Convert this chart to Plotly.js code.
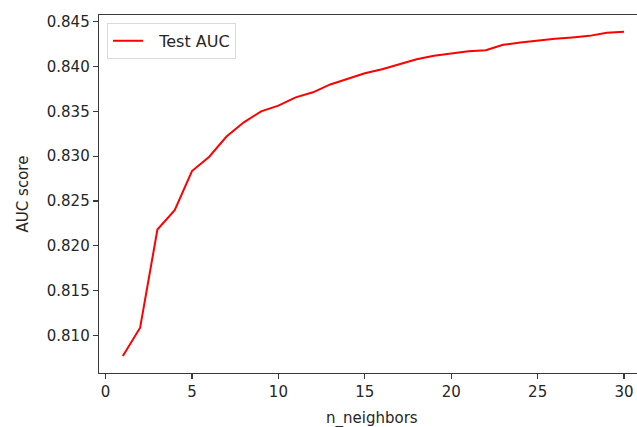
<!DOCTYPE html>
<html>
<head>
<meta charset="utf-8">
<script src="https://cdn.plot.ly/plotly-3.0.1.min.js"></script>
<style>
html,body{margin:0;padding:0;overflow:hidden;background:#fff;}
#chart{width:637px;height:427px;}
</style>
</head>
<body>
<div id="chart"></div>
<script>
const nNeighbors = [1,2,3,4,5,6,7,8,9,10,11,12,13,14,15,16,17,18,19,20,21,22,23,24,25,26,27,28,29,30];
const testAUC = [0.80769,0.81085,0.82180,0.82396,0.82833,0.82993,0.83218,0.83377,0.83500,0.83564,
                 0.83656,0.83712,0.83800,0.83862,0.83925,0.83970,0.84022,0.84082,0.84119,0.84148,
                 0.84171,0.84182,0.84242,0.84268,0.84290,0.84309,0.84324,0.84342,0.84376,0.84387];
const xTicks = [0,5,10,15,20,25,30];
const yTicks = [0.810,0.815,0.820,0.825,0.830,0.835,0.840,0.845];
const seriesName = 'Test AUC';
const xTitle = 'n_neighbors';
const yTitle = 'AUC score';

const font = {family:'DejaVu Sans, sans-serif', size:15, color:'#262626'};

Plotly.newPlot('chart', [{
  x: nNeighbors, y: testAUC, type:'scatter', mode:'lines', name: '\u2002\u2009' + seriesName,
  line:{color:'#ff0000', width:2}
}], {
  width:637, height:427,
  margin:{l:99, r:0, t:15, b:54},
  paper_bgcolor:'#fff', plot_bgcolor:'#fff',
  font: font,
  showlegend:true,
  legend:{x:0.0149, y:0.978, xanchor:'left', yanchor:'top',
          bgcolor:'rgba(255,255,255,0.8)', bordercolor:'#d9d9d9', borderwidth:1,
          font:{family:'DejaVu Sans, sans-serif', size:16, color:'#262626'}},
  annotations:[{text:xTitle, xref:'paper', yref:'paper', x:0.5074, y:0,
                xanchor:'center', yanchor:'top', yshift:-34, showarrow:false, font:font}],
  xaxis:{range:[-0.38,30.75], tickvals:xTicks, ticktext:xTicks.map(String),
         showgrid:false, zeroline:false, showline:true, mirror:true,
         linecolor:'#3a3a3a', linewidth:1.3, ticks:'outside', ticklen:5, tickwidth:1.2, tickcolor:'#3a3a3a',
         tickfont:font},
  yaxis:{range:[0.80579,0.84575], tickvals:yTicks, ticktext:yTicks.map(v=>v.toFixed(3)),
         showgrid:false, zeroline:false, showline:true, mirror:false,
         linecolor:'#3a3a3a', linewidth:1.3, ticks:'outside', ticklen:5, tickwidth:1.2, tickcolor:'#3a3a3a',
         tickfont:font,
         title:{text:yTitle, font:font, standoff:14}}
}, {staticPlot:true, displayModeBar:false});
</script>
</body>
</html>
